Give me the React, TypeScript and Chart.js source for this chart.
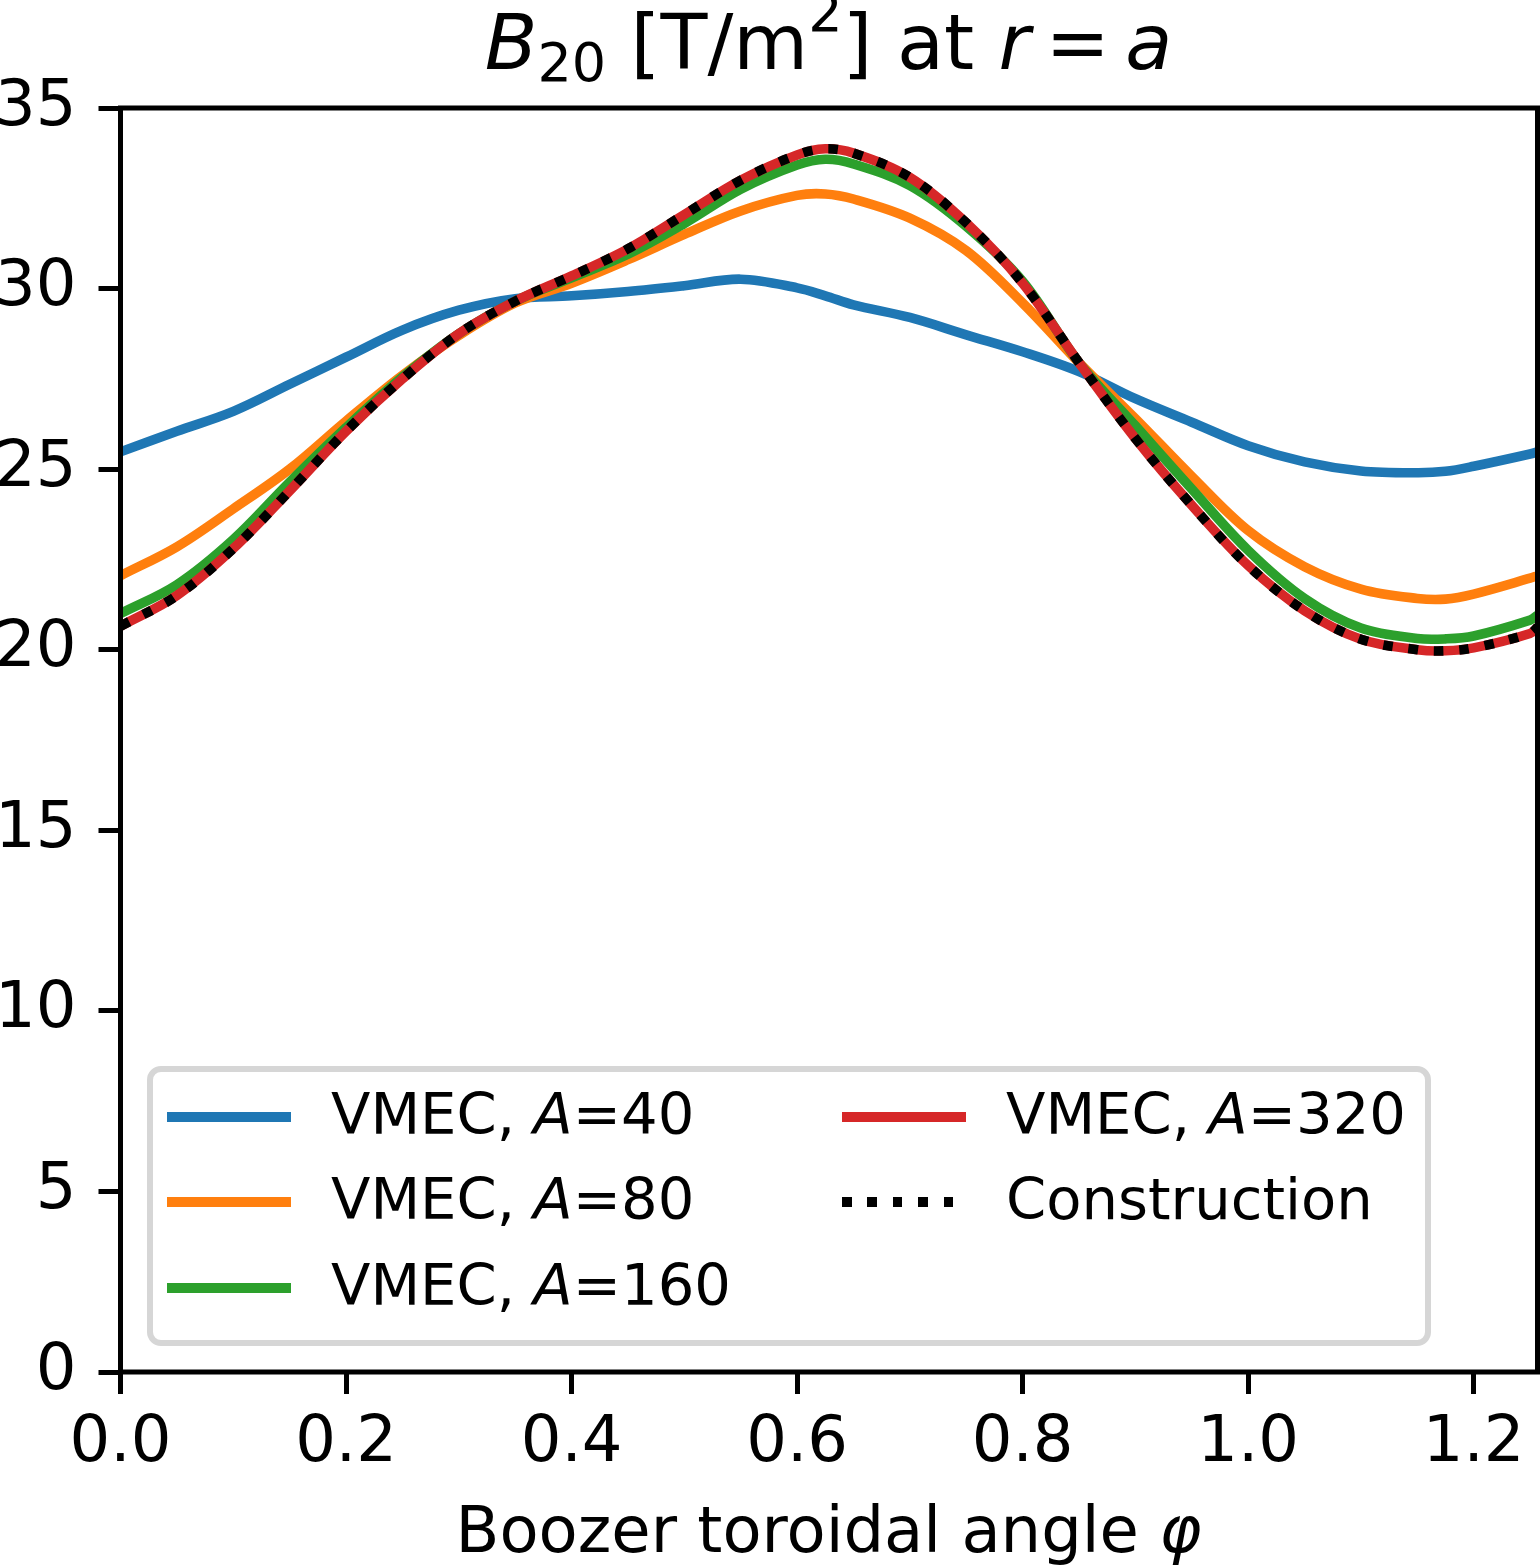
import React, { useEffect, useRef } from 'react';
import { Chart, registerables } from 'chart.js';

Chart.register(...registerables);

// Boozer toroidal angle φ (x), from 0 to 2π/5
const PHI = [0, 0.05, 0.1, 0.15, 0.2, 0.25, 0.3, 0.35, 0.4, 0.45, 0.5, 0.55, 0.6, 0.625, 0.65, 0.7, 0.75, 0.8, 0.85, 0.9, 0.95, 1.0, 1.05, 1.1, 1.15, 1.175, 1.2, 1.25, 1.2566];

const B20_A40 = [25.48, 26.05, 26.6, 27.35, 28.1, 28.85, 29.4, 29.72, 29.8, 29.92, 30.08, 30.26, 30.02, 29.8, 29.55, 29.2, 28.72, 28.25, 27.7, 26.95, 26.3, 25.65, 25.2, 24.95, 24.9, 24.94, 25.08, 25.42, 25.48];
const B20_A80 = [22.05, 22.85, 23.9, 25.0, 26.33, 27.6, 28.7, 29.6, 30.15, 30.8, 31.5, 32.15, 32.58, 32.62, 32.48, 31.95, 31.05, 29.6, 27.95, 26.4, 24.8, 23.3, 22.3, 21.68, 21.42, 21.4, 21.54, 21.98, 22.05];
const B20_A160 = [21.0, 21.8, 23.05, 24.64, 26.15, 27.55, 28.75, 29.65, 30.3, 30.95, 31.8, 32.75, 33.42, 33.58, 33.45, 32.85, 31.72, 30.2, 27.95, 26.2, 24.45, 22.75, 21.42, 20.6, 20.31, 20.3, 20.38, 20.82, 20.95];
const B20_A320 = [20.65, 21.5, 22.8, 24.4, 26.05, 27.5, 28.75, 29.65, 30.35, 31.1, 32.05, 33.0, 33.7, 33.87, 33.75, 33.08, 31.82, 30.15, 27.95, 25.85, 24.0, 22.33, 21.08, 20.29, 20.0, 19.97, 20.05, 20.45, 20.62];
const B20_CONSTRUCTION = [20.65, 21.5, 22.8, 24.4, 26.05, 27.5, 28.75, 29.65, 30.35, 31.1, 32.05, 33.0, 33.7, 33.87, 33.75, 33.08, 31.82, 30.15, 27.95, 25.85, 24.0, 22.33, 21.08, 20.29, 20.0, 19.97, 20.05, 20.45, 20.62];

const X_TICKS = [0, 0.2, 0.4, 0.6, 0.8, 1.0, 1.2];
const Y_TICKS = [0, 5, 10, 15, 20, 25, 30, 35];
const X_MIN = 0;
const X_MAX = 1.2566;
const Y_MIN = 0;
const Y_MAX = 35;

const RESOLUTIONS = [40, 80, 160, 320];
const CONSTRUCTION_LABEL = 'Construction';

const COLORS = ['#1f77b4', '#ff7f0e', '#2ca02c', '#d62728', '#000000'];
const LW = 9.6;
const DOT = [9.6, 15.84];
const FONT = "'DejaVu Sans'";

const spinePlugin = {
  id: 'spines',
  afterDatasetsDraw(chart: any) {
    const { ctx, chartArea: a } = chart;
    ctx.save();
    ctx.strokeStyle = '#000';
    ctx.lineWidth = 5;
    ctx.lineJoin = 'miter';
    ctx.strokeRect(a.left, a.top, a.right - a.left, a.bottom - a.top);
    ctx.restore();
  },
};

function LegendEntry({ x, cy, color, dotted, children }: any) {
  const sampleStyle: any = {
    position: 'absolute',
    left: x,
    top: cy - LW / 2,
    width: 124,
    height: LW,
    background: dotted
      ? `repeating-linear-gradient(to right, #000 0px, #000 ${DOT[0]}px, transparent ${DOT[0]}px, transparent ${DOT[0] + DOT[1]}px)`
      : color,
  };
  return (
    <>
      <div style={sampleStyle} />
      <div
        style={{
          position: 'absolute',
          left: x + 164,
          top: cy + 18 - 48.7,
          fontSize: 57.6,
          lineHeight: '57.6px',
          whiteSpace: 'nowrap',
          color: '#000',
        }}
      >
        {children}
      </div>
    </>
  );
}

export default function App() {
  const ref = useRef<HTMLCanvasElement | null>(null);

  useEffect(() => {
    const canvas = ref.current;
    if (!canvas) return;
    const series = [B20_A40, B20_A80, B20_A160, B20_A320, B20_CONSTRUCTION];
    const labels = [...RESOLUTIONS.map((r) => `VMEC, A=${r}`), CONSTRUCTION_LABEL];
    const datasets = series.map((vals, k) => ({
      label: labels[k],
      data: PHI.map((x, i) => ({ x, y: vals[i] })),
      borderColor: COLORS[k],
      backgroundColor: COLORS[k],
      borderWidth: LW,
      pointRadius: 0,
      pointHoverRadius: 0,
      fill: false,
      tension: 0.35,
      clip: 0,
      order: 5 - k,
      borderDash: k === 4 ? DOT : [],
      borderCapStyle: 'butt' as const,
      borderJoinStyle: 'round' as const,
    }));

    const tickFont = { family: FONT, size: 64 };
    const chart = new Chart(canvas, {
      type: 'line',
      data: { datasets },
      options: {
        animation: false,
        responsive: false,
        devicePixelRatio: 1,
        events: [],
        layout: { padding: { top: 108, right: 2.5, left: 0, bottom: 0 } },
        plugins: {
          legend: { display: false },
          title: { display: false },
          tooltip: { enabled: false },
        },
        scales: {
          x: {
            type: 'linear',
            min: X_MIN,
            max: X_MAX,
            afterBuildTicks: (s: any) => {
              s.ticks = X_TICKS.map((v) => ({ value: v }));
            },
            afterFit: (s: any) => {
              s.height = 193;
            },
            ticks: {
              font: tickFont,
              color: '#000',
              padding: 12,
              maxRotation: 0,
              autoSkip: false,
              callback: (v: any) => Number(v).toFixed(1),
            },
            grid: {
              display: true,
              drawOnChartArea: false,
              drawTicks: true,
              tickLength: 22,
              tickWidth: 5,
              tickColor: '#000',
            },
            border: { display: false },
          },
          y: {
            type: 'linear',
            min: Y_MIN,
            max: Y_MAX,
            afterBuildTicks: (s: any) => {
              s.ticks = Y_TICKS.map((v) => ({ value: v }));
            },
            afterFit: (s: any) => {
              s.width = 120.5;
            },
            ticks: {
              font: tickFont,
              color: '#000',
              padding: 22,
              autoSkip: false,
              callback: (v: any) => String(v),
            },
            grid: {
              display: true,
              drawOnChartArea: false,
              drawTicks: true,
              tickLength: 22,
              tickWidth: 5,
              tickColor: '#000',
            },
            border: { display: false },
          },
        },
      },
      plugins: [spinePlugin],
    } as any);
    return () => chart.destroy();
  }, []);

  const rowY = [1117, 1202, 1288];
  return (
    <div
      style={{
        position: 'absolute',
        left: 0,
        top: 0,
        width: 1540,
        height: 1565,
        overflow: 'hidden',
        background: '#fff',
        fontFamily: FONT,
        color: '#000',
      }}
    >
      <canvas
        ref={ref}
        width={1540}
        height={1565}
        style={{ position: 'absolute', left: 0, top: 0, width: 1540, height: 1565 }}
      />
      <div
        style={{
          position: 'absolute',
          left: 120,
          width: 1417,
          top: 5,
          textAlign: 'center',
          fontSize: 76.8,
          lineHeight: '76.8px',
          whiteSpace: 'nowrap',
        }}
      >
        <span style={{ fontStyle: 'italic' }}>B</span>
        <span style={{ fontSize: 54, position: 'relative', top: 12 }}>20</span>
        {' [T/m'}
        <span style={{ fontSize: 54, position: 'relative', top: -38 }}>2</span>
        {'] at '}
        <span style={{ fontStyle: 'italic' }}>r</span>
        <span style={{ margin: '0 0.2em' }}>=</span>
        <span style={{ fontStyle: 'italic' }}>a</span>
      </div>
      <div
        style={{
          position: 'absolute',
          left: 120,
          width: 1417,
          top: 1498,
          textAlign: 'center',
          fontSize: 64,
          lineHeight: '64px',
          whiteSpace: 'nowrap',
        }}
      >
        Boozer toroidal angle <span style={{ fontStyle: 'italic' }}>φ</span>
      </div>
      <div
        style={{
          position: 'absolute',
          left: 147,
          top: 1066,
          width: 1284,
          height: 280,
          boxSizing: 'border-box',
          border: '6px solid #d6d6d6',
          borderRadius: 14,
          background: 'rgba(255,255,255,0.8)',
        }}
      />
      {RESOLUTIONS.slice(0, 3).map((r, i) => (
        <LegendEntry key={r} x={167} cy={rowY[i]} color={COLORS[i]}>
          VMEC, <span style={{ fontStyle: 'italic' }}>A</span>={r}
        </LegendEntry>
      ))}
      <LegendEntry x={842} cy={rowY[0]} color={COLORS[3]}>
        VMEC, <span style={{ fontStyle: 'italic' }}>A</span>={RESOLUTIONS[3]}
      </LegendEntry>
      <LegendEntry x={842} cy={rowY[1]} color={COLORS[4]} dotted>
        {CONSTRUCTION_LABEL}
      </LegendEntry>
    </div>
  );
}
